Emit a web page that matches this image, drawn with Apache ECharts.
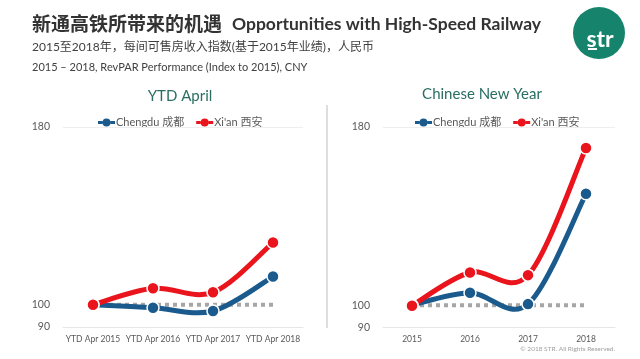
<!DOCTYPE html>
<html>
<head>
<meta charset="utf-8">
<script src="https://cdn.jsdelivr.net/npm/echarts@6/dist/echarts.min.js"></script>
<style>html,body{margin:0;padding:0;background:#fff;}#c{width:640px;height:359px;}</style>
</head>
<body>
<div id="c"></div>
<script>
const ytdCategories = ['YTD Apr 2015', 'YTD Apr 2016', 'YTD Apr 2017', 'YTD Apr 2018'];
const cnyCategories = ['2015', '2016', '2017', '2018'];
const ytdChengdu = [100, 98.7, 97.2, 112.7];
const ytdXian = [100, 107.4, 105.6, 128];
const cnyChengdu = [100, 105.6, 100.5, 150];
const cnyXian = [99.8, 114.7, 113.5, 170.6];
const baseline = [100, 100, 100, 100];
const yTickLabels = [90, 100, 180];
const seriesNames = ['Chengdu 成都', 'Xi\'an 西安'];

const BLUE = '#1a5a8c', RED = '#ea141c', TEAL = '#2a6e62';
const FONT = 'Lato, "Noto Sans CJK SC", sans-serif';

function yAxis(idx) {
  return {
    gridIndex: idx, type: 'value', min: 90, max: 180, interval: 10,
    axisLine: {show: false}, axisTick: {show: false}, splitLine: {show: false},
    axisLabel: {margin: 13, color: '#595959', fontSize: 10.5, fontFamily: FONT,
      formatter: v => yTickLabels.includes(v) ? String(v) : ''}
  };
}
function xAxis(idx, cats) {
  return {
    gridIndex: idx, type: 'category', data: cats, boundaryGap: true,
    axisLine: {show: true, lineStyle: {color: '#e6e6e6', width: 1}},
    axisTick: {show: false},
    axisLabel: {margin: 8, color: '#595959', fontSize: 8.5, fontFamily: FONT, interval: 0}
  };
}
// Smooth (Excel-like, Catmull-Rom) line drawn through the axes' coordinate system
function lineSeries(name, values, color, idx) {
  const n = values.length;
  return {
    name, type: 'custom', xAxisIndex: idx, yAxisIndex: idx, clip: false, z: 3,
    itemStyle: {color},
    data: values.map((v, i) => [i, v]),
    encode: {x: 0, y: 1},
    renderItem: function (params, api) {
      const i = params.dataIndex;
      const pt = k => api.coord([k, values[k]]);
      const children = [];
      const p1 = pt(i);
      if (i < n - 1) {
        const p0 = pt(Math.max(i - 1, 0)), p2 = pt(i + 1), p3 = pt(Math.min(i + 2, n - 1));
        children.push({
          type: 'bezierCurve', z2: 1,
          shape: {x1: p1[0], y1: p1[1], x2: p2[0], y2: p2[1],
            cpx1: p1[0] + (p2[0] - p0[0]) / 6, cpy1: p1[1] + (p2[1] - p0[1]) / 6,
            cpx2: p2[0] - (p3[0] - p1[0]) / 6, cpy2: p2[1] - (p3[1] - p1[1]) / 6},
          style: {stroke: color, lineWidth: 5, fill: null, lineCap: 'round'}
        });
      }
      children.push({
        type: 'circle', z2: 10,
        shape: {cx: p1[0], cy: p1[1], r: 6},
        style: {fill: color, stroke: '#fff', lineWidth: 1.5}
      });
      return {type: 'group', children};
    }
  };
}
function baseSeries(idx) {
  return {
    type: 'line', data: baseline, xAxisIndex: idx, yAxisIndex: idx, symbol: 'none', silent: true,
    lineStyle: {color: '#a6a6a6', width: 4, type: [4, 4], cap: 'butt'}, z: 1,
    markLine: {silent: true, symbol: 'none', label: {show: false},
      lineStyle: {color: '#eeeeee', type: 'solid', width: 1}, data: [{yAxis: 180}]}
  };
}
const LEG_ICON = 'path://M0,2.5h4.5v3h-4.5z M12.5,2.5h4.5v3h-4.5z M8.5,0a4,4 0 1,1 0,8a4,4 0 1,1 0,-8z';
function legend(left) {
  return {
    data: seriesNames.map(n => ({name: n, icon: LEG_ICON})),
    left, top: 112, itemWidth: 17, itemHeight: 8, itemGap: 12,
    selectedMode: false,
    textStyle: {color: '#595959', fontSize: 11, fontFamily: FONT, padding: [0, 0, 0, -4]}
  };
}

const chart = echarts.init(document.getElementById('c'));
chart.setOption({
  backgroundColor: '#fff',
  animation: false,
  textStyle: {fontFamily: FONT},
  title: [
    {text: 'YTD April', left: 175, top: 84, textAlign: 'center',
      textStyle: {color: TEAL, fontSize: 15, fontWeight: 'normal', fontFamily: FONT}},
    {text: 'Chinese New Year', left: 477, top: 82, textAlign: 'center',
      textStyle: {color: TEAL, fontSize: 15, fontWeight: 'normal', fontFamily: FONT}}
  ],
  legend: [legend(93), legend(410)],
  grid: [
    {left: 63, right: 337, top: 127, bottom: 32},
    {left: 383, right: 25, top: 127, bottom: 31.5}
  ],
  xAxis: [xAxis(0, ytdCategories), xAxis(1, cnyCategories)],
  yAxis: [yAxis(0), yAxis(1)],
  series: [
    baseSeries(0),
    lineSeries(seriesNames[0], ytdChengdu, BLUE, 0),
    lineSeries(seriesNames[1], ytdXian, RED, 0),
    baseSeries(1),
    lineSeries(seriesNames[0], cnyChengdu, BLUE, 1),
    lineSeries(seriesNames[1], cnyXian, RED, 1)
  ],
  graphic: [
    {type: 'text', left: 32, top: 14, style: {text: '新通高铁所带来的机遇', fill: '#333', font: 'bold 19px "Noto Sans CJK SC"'}},
    {type: 'text', left: 232, top: 15, style: {text: 'Opportunities with High-Speed Railway', fill: '#333', font: 'bold 17.5px Lato'}},
    {type: 'text', left: 32, top: 41, style: {text: '2015至2018年，每间可售房收入指数(基于2015年业绩)，人民币', fill: '#404040', font: '12px Lato, "Noto Sans CJK SC"'}},
    {type: 'text', left: 32, top: 62, style: {text: '2015 – 2018, RevPAR Performance (Index to 2015), CNY', fill: '#404040', font: '11px Lato'}},
    {type: 'circle', shape: {cx: 599, cy: 33, r: 26}, style: {fill: '#16846d'}},
    {type: 'text', x: 600, y: 40, style: {text: 'str', fill: '#fff', font: 'bold 23px Lato', align: 'center', verticalAlign: 'middle'}},
    {type: 'rect', shape: {x: 588, y: 48, width: 9, height: 2}, style: {fill: '#fff'}},
    {type: 'line', shape: {x1: 327, y1: 105, x2: 327, y2: 328}, style: {stroke: '#bdbdbd', lineWidth: 1}},
    {type: 'text', right: 25, top: 345, style: {text: '© 2018 STR. All Rights Reserved.', fill: '#a0a0a0', font: '6.5px Lato'}}
  ]
});
</script>
</body>
</html>
